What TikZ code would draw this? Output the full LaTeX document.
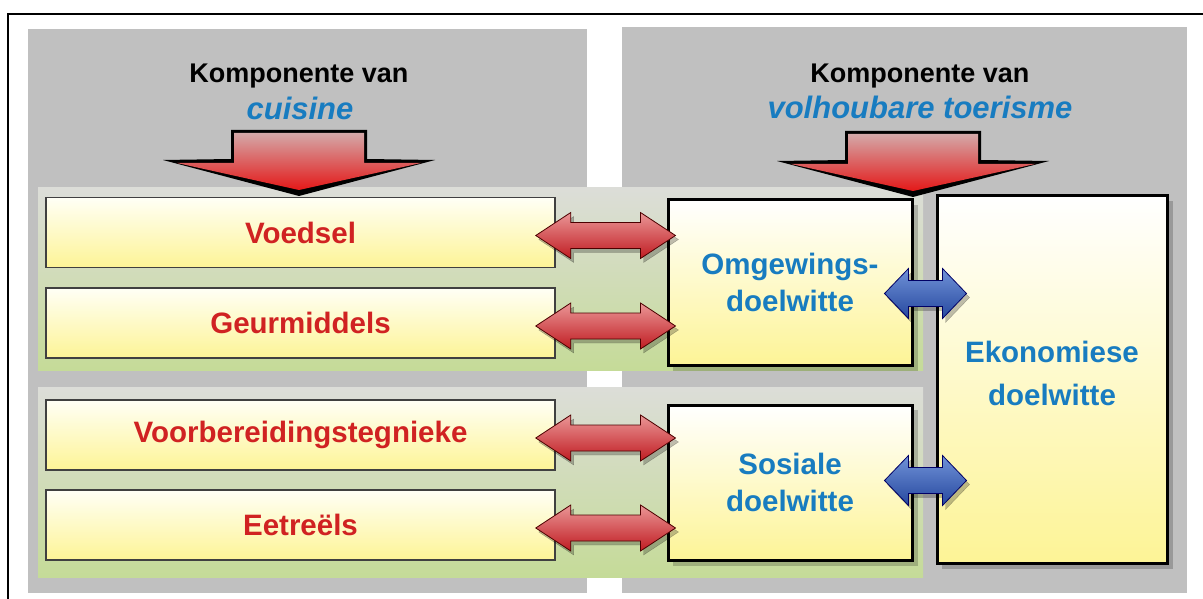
\documentclass[tikz,border=0pt]{standalone}
\usepackage{fontspec}
\setmainfont{Liberation Sans}
\usetikzlibrary{calc}

\definecolor{panelgray}{RGB}{192,192,192}
\definecolor{bandtop}{RGB}{220,221,216}
\definecolor{bandbot}{RGB}{197,219,152}
\definecolor{boxtop}{RGB}{255,255,246}
\definecolor{boxbot}{RGB}{253,244,150}
\definecolor{labelred}{RGB}{208,34,34}
\definecolor{labelblue}{RGB}{24,124,192}
\definecolor{arrowlight}{RGB}{234,150,150}
\definecolor{arrowdark}{RGB}{192,28,34}
\definecolor{bluelight}{RGB}{112,146,216}
\definecolor{bluedark}{RGB}{38,72,158}
\definecolor{bigtop}{RGB}{212,168,168}
\definecolor{bigbot}{RGB}{228,24,24}

% double arrow: style, left tip, right tip, head length, head half width, shaft half width
\newcommand{\dblarrow}[6]{%
  \draw[#1] (#2) -- ++(#4,-#5) -- ++(0,#5-#6) -- ($(#3)+(-#4,-#6)$) -- ++(0,#6-#5)
    -- (#3) -- ++(-#4,#5) -- ++(0,#6-#5) -- ($(#2)+(#4,#6)$) -- ++(0,#5-#6) -- cycle;}

% big down arrow under a title, given its tip
\newcommand{\bigarrow}[1]{%
  \fill[black] ($(#1)+(-68,-66)$) -- ($(#1)+(68,-66)$) -- ($(#1)+(68,-37)$)
    -- ($(#1)+(136,-36)$) -- (#1) -- ($(#1)+(-136,-36)$) -- ($(#1)+(-68,-37)$) -- cycle;
  \fill[top color=bigtop,bottom color=bigbot] ($(#1)+(-65,-63)$) -- ($(#1)+(65,-63)$)
    -- ($(#1)+(65,-33)$) -- ($(#1)+(122,-33)$) -- ($(#1)+(0,-6)$) -- ($(#1)+(-122,-33)$)
    -- ($(#1)+(-65,-33)$) -- cycle;}

\tikzset{
  titlefont/.style={font=\fontsize{27}{32}\selectfont\bfseries, inner sep=0},
  subtitle/.style={font=\fontsize{31}{36}\selectfont\bfseries\itshape, text=labelblue, inner sep=0},
  leftbox/.style={draw=black!75, line width=1.5pt, minimum width=509, minimum height=70,
    inner sep=0, top color=boxtop, bottom color=boxbot, text=labelred,
    font=\fontsize{29.5}{36}\selectfont\bfseries},
  goalbox/.style={draw=black, line width=3pt, top color=white, bottom color=boxbot,
    text=labelblue, align=center, inner sep=0,
    font=\fontsize{29.5}{37}\selectfont\bfseries},
  redarrow/.style={draw=black!70!red, line width=0.8pt, top color=arrowlight, bottom color=arrowdark},
  bluearrow/.style={draw=black!60!blue, line width=0.8pt, top color=bluelight, bottom color=bluedark},
  arrowshadow/.style={fill=black, opacity=0.25},
}

\begin{document}
\begin{tikzpicture}[x=1pt,y=-1pt]
    \useasboundingbox (0,0) rectangle (1203,599);

    % Frame
    \draw[line width=2pt] (8,599) -- (8,14) -- (1203,14);

    % Panels
    \fill[panelgray] (28,29) rectangle (587,593);
    \fill[panelgray] (622,27) rectangle (1187,593);

    % Green bands
    \shade[top color=bandtop,bottom color=bandbot] (38,188) rectangle (923,370);
    \shade[top color=bandtop,bottom color=bandbot] (38,387) rectangle (923,577);

    % Titles
    \node[titlefont] (kompl) at (299,76) {Komponente van};
    \node[subtitle] (cuisine) at (300,108) {cuisine};
    \node[titlefont] (kompr) at (920,76) {Komponente van};
    \node[subtitle] (toerisme) at (920,107) {volhoubare toerisme};

    % Goal boxes
    \fill[black,opacity=0.2] (673,205) rectangle (918,371);
    \fill[black,opacity=0.2] (673,410) rectangle (918,566);
    \fill[black,opacity=0.2] (942,201) rectangle (1173,569);
    \node[goalbox, minimum width=244, minimum height=165] (omg) at (790,282.5) {Omgewings-\\doelwitte};
    \node[goalbox, minimum width=244, minimum height=155] (sos) at (790,482.5) {Sosiale\\doelwitte};
    \node[goalbox, minimum width=230, minimum height=367, text depth=12pt,
      font=\fontsize{29.5}{43}\selectfont\bfseries] (eko) at (1052,379.5) {Ekonomiese\\doelwitte};

    % Cuisine boxes
    \foreach \name/\txt/\y in {voedsel/Voedsel/232.5, geur/Geurmiddels/323,
        voorb/Voorbereidingstegnieke/435, eet/Eetreëls/525}
      \node[leftbox] (\name) at (300.5,\y) {\txt};

    % Big arrows
    \coordinate (tipl) at (299,196);
    \coordinate (tipr) at (913,197);
    \bigarrow{tipl}
    \bigarrow{tipr}

    % Red arrows
    \foreach \name/\goal in {voedsel/omg, geur/omg, voorb/sos, eet/sos}{
      \coordinate (\name-l) at ($(\name.east)+(-20,3)$);
      \coordinate (\name-r) at ($(\goal.west |- \name-l)+(9,0)$);
      \coordinate (\name-ls) at ($(\name-l)+(3,4)$);
      \coordinate (\name-rs) at ($(\name-r)+(3,4)$);
      \dblarrow{arrowshadow}{\name-ls}{\name-rs}{35}{23}{13}
      \dblarrow{redarrow}{\name-l}{\name-r}{35}{23}{13}
    }

    % Blue arrows
    \coordinate (omg-l) at ($(omg.east)+(-29,11)$);
    \coordinate (omg-r) at ($(eko.west |- omg-l)+(31,0)$);
    \coordinate (sos-l) at ($(sos.east)+(-29,-2)$);
    \coordinate (sos-r) at ($(eko.west |- sos-l)+(31,0)$);
    \foreach \name in {omg, sos}{
      \coordinate (\name-ls) at ($(\name-l)+(3,4)$);
      \coordinate (\name-rs) at ($(\name-r)+(3,4)$);
      \dblarrow{arrowshadow}{\name-ls}{\name-rs}{24}{25}{13}
      \dblarrow{bluearrow}{\name-l}{\name-r}{24}{25}{13}
    }
\end{tikzpicture}
\end{document}
